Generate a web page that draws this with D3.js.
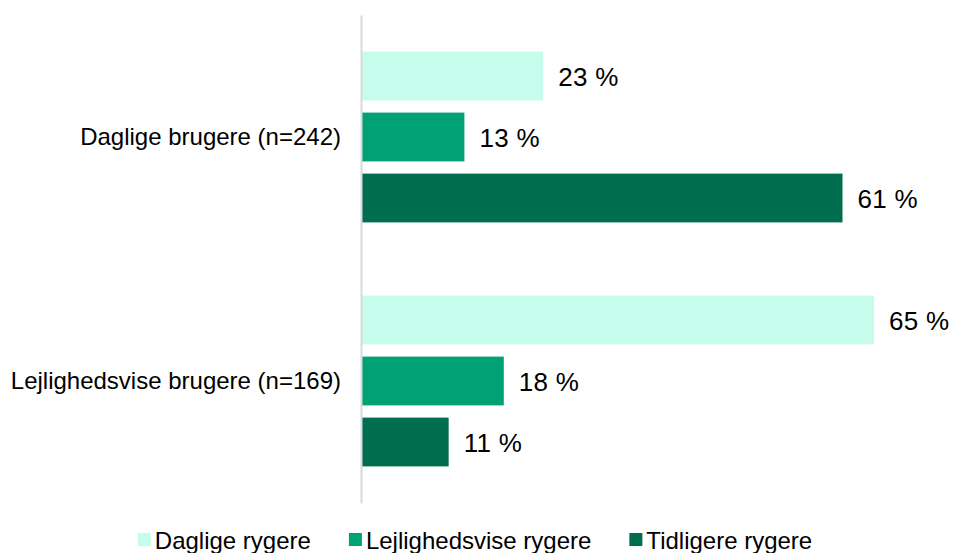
<!DOCTYPE html>
<html>
<head>
<meta charset="utf-8">
<script src="https://cdnjs.cloudflare.com/ajax/libs/d3/7.8.5/d3.min.js"></script>
<style>
  body { margin: 0; background: #fff; }
  svg text { font-family: "Liberation Sans", Arial, sans-serif; fill: #000; }
</style>
</head>
<body>
<script>
// data
const categories = ['Daglige brugere (n=242)', 'Lejlighedsvise brugere (n=169)'];
const seriesNames = ['Daglige rygere', 'Lejlighedsvise rygere', 'Tidligere rygere'];
const dagligeRygere = [23, 65];
const lejlighedsviseRygere = [13, 18];
const tidligereRygere = [61, 11];
const colors = ['#c6fcec', '#00a174', '#006d4f'];

const seriesValues = [dagligeRygere, lejlighedsviseRygere, tidligereRygere];

const width = 953;
const height = 553;
const margin = { top: 15, left: 362, bottom: 50 };

const svg = d3.select('body').append('svg')
              .attr('width', width)
              .attr('height', height);

// set the ranges
const x = d3.scaleLinear().domain([0, 70]).range([margin.left, margin.left + 70 * 7.877]);
const y0 = d3.scaleBand().domain(categories).range([margin.top, 503]);
const y1 = d3.scaleBand().domain(seriesNames).range([0, y0.bandwidth()])
             .paddingInner(0.2).paddingOuter(0.6);

// rows of data for the bars
const rows = [];
categories.forEach((c, i) => {
  seriesNames.forEach((s, j) => {
    rows.push({ cat: c, series: s, value: seriesValues[j][i], color: colors[j] });
  });
});

// bars
svg.append('g').selectAll('rect')
   .data(rows)
   .enter().append('rect')
   .attr('x', x(0))
   .attr('y', d => y0(d.cat) + y1(d.series))
   .attr('width', d => x(d.value) - x(0))
   .attr('height', y1.bandwidth())
   .style('fill', d => d.color);

// value labels
svg.append('g').selectAll('text')
   .data(rows)
   .enter().append('text')
   .attr('x', d => x(d.value) + 15)
   .attr('y', d => y0(d.cat) + y1(d.series) + y1.bandwidth() / 2 + 1)
   .attr('dominant-baseline', 'central')
   .style('font-size', '26px')
   .style('letter-spacing', '0.3px')
   .text(d => d.value + ' %');

// y axis
const yAxis = svg.append('g')
   .attr('transform', 'translate(' + (margin.left - 1) + ',0)')
   .call(d3.axisLeft(y0).tickSize(0).tickPadding(20));
yAxis.select('.domain').style('stroke', '#d9d9d9').style('stroke-width', 2);
yAxis.selectAll('text')
   .style('font-size', '24px')
   .style('font-family', '"Liberation Sans", Arial, sans-serif')
   .attr('dy', '0.35em');

// legend
const legend = svg.append('g');
const items = legend.selectAll('g')
   .data(seriesNames)
   .enter().append('g');
items.append('rect')
   .attr('width', 13).attr('height', 13)
   .attr('y', 533)
   .style('fill', (d, i) => colors[i]);
items.append('text')
   .attr('x', 17)
   .attr('y', 540)
   .attr('dominant-baseline', 'central')
   .style('font-size', '24px')
   .text(d => d);

const gap = 38;
let pos = 0;
const starts = [];
items.each(function() {
  starts.push(pos);
  const w = 17 + this.querySelector('text').getComputedTextLength();
  pos += w + gap;
});
const total = pos - gap;
const left = 475 - total / 2;
items.attr('transform', (d, i) => 'translate(' + (left + starts[i]) + ',0)');
</script>
</body>
</html>
